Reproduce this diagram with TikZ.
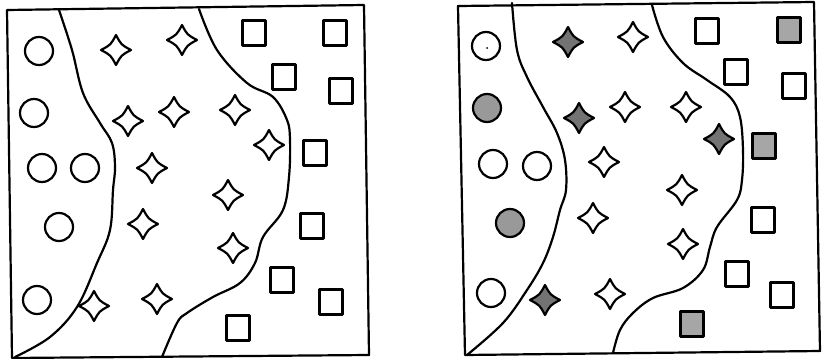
\documentclass[tikz,border=0pt]{standalone}
\begin{document}
\begin{tikzpicture}[x=1pt,y=-1pt,
  ln/.style={line width=2.2pt,line join=round,line cap=round},
  lgray/.style={fill=black!35},
  dgray/.style={fill=black!55},
  cgray/.style={fill=black!40}]
\useasboundingbox (0,0) rectangle (839,359);
\tikzset{
  mystar/.pic={\draw[ln,pic actions] (0,-15) .. controls (5.2,-5.2) .. (15,0) .. controls (5.2,5.2) .. (0,15) .. controls (-5.2,5.2) .. (-15,0) .. controls (-5.2,-5.2) .. cycle;},
  mysq/.pic={\draw[ln,pic actions] (-11.5,-12.5) rectangle (11.5,12.5);},
  mycirc/.pic={\draw[ln,pic actions] (0,0) circle (14);}
}
% ---------- left panel ----------
\draw[ln] (7,10) -- (364,5) -- (369,355) -- (12,358) -- cycle;
\draw[ln] plot[smooth,tension=0.6] coordinates {(59,10) (72,50) (83,93) (100,123) (112,143) (115,167) (113,190) (110,230) (97,263) (77,307) (50,337) (15,357)};
\draw[ln] plot[smooth,tension=0.6] coordinates {(199,9) (217,50) (247,83) (273,97) (287,120) (290,140) (289,177) (283,210) (263,237) (255,263) (240,283) (213,297) (187,313) (177,323) (162,357)};
\foreach \p in {(39,51),(34,113),(42,168),(85,168),(59,227),(37,300)} \pic at \p {mycirc};
\foreach \p in {(116,50),(182,40),(128,121),(174,112),(235,110),(269,145),(152,168),(228,195),(143,224),(233,248),(94,306),(157,299)} \pic at \p {mystar};
\foreach \p in {(254,33),(335,33),(284,77),(341,91),(315,153),(312,226),(282,280),(331,302),(238,328)} \pic at \p {mysq};
% ---------- right panel ----------
\draw[ln] (458,6) -- (814,2) -- (820,351) -- (465,355) -- cycle;
\draw[ln] plot[smooth,tension=0.6] coordinates {(512,3) (517,50) (527,77) (543,107) (557,133) (565,160) (566,190) (560,210) (553,237) (543,263) (527,290) (503,323) (467,355)};
\draw[ln] plot[smooth,tension=0.6] coordinates {(652,5) (663,37) (683,63) (707,80) (730,97) (740,117) (743,150) (742,180) (737,200) (717,227) (710,247) (703,270) (683,288) (653,298) (633,313) (620,330) (613,353)};
\foreach \p in {(486,46),(493,164),(537,166),(491,293)} \pic at \p {mycirc};
\fill (487,48) circle (1);
\foreach \p in {(487,108),(510,223)} \pic[cgray] at \p {mycirc};
\foreach \p in {(633,37),(625,107),(686,107),(604,162),(682,190),(593,218),(683,244),(610,294)} \pic at \p {mystar};
\foreach \p in {(568,42),(579,118),(719,139),(545,300)} \pic[dgray] at \p {mystar};
\foreach \p in {(707,31),(736,72),(794,86),(763,220),(737,274),(782,295)} \pic at \p {mysq};
\foreach \p in {(789,30),(764,146),(692,324)} \pic[lgray] at \p {mysq};
\end{tikzpicture}
\end{document}
